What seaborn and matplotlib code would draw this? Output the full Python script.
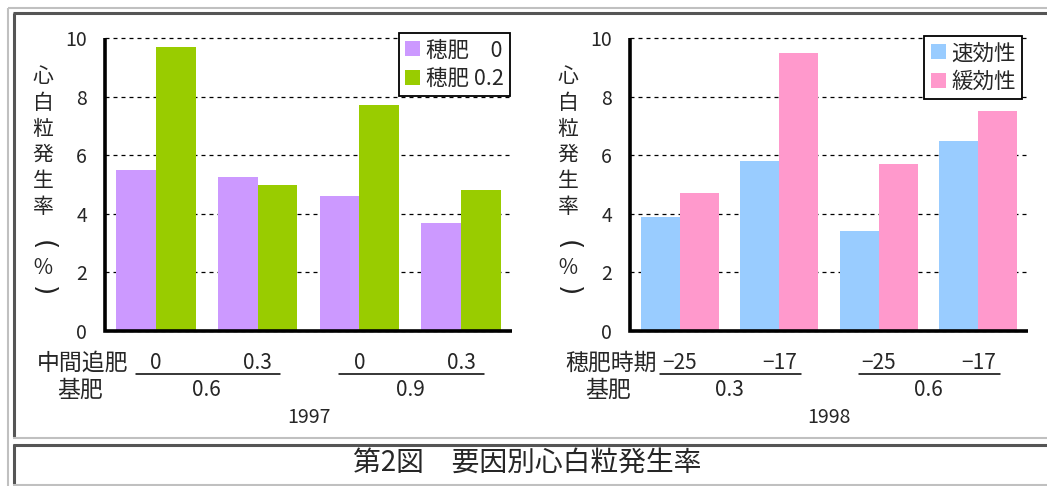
import matplotlib
matplotlib.use("Agg")
import matplotlib.pyplot as plt
import matplotlib.transforms as mtransforms
import seaborn as sns
import pandas as pd

# ---- data -------------------------------------------------------------
# 1997: base fertilizer x mid-season topdressing, panicle fertilizer 0 / 0.2
base_1997 = ["0.6", "0.6", "0.9", "0.9"]
mid_1997 = ["0", "0.3", "0", "0.3"]
series_1997 = ["穂肥　0", "穂肥 0.2"]
hohi_0 = [5.5, 5.25, 4.6, 3.7]
hohi_02 = [9.7, 5.0, 7.7, 4.8]

# 1998: base fertilizer x panicle fertilizer timing, quick / slow release
base_1998 = ["0.3", "0.3", "0.6", "0.6"]
timing_1998 = ["−25", "−17", "−25", "−17"]
series_1998 = ["速効性", "緩効性"]
sokkou = [3.9, 5.8, 3.4, 6.5]
kankou = [4.7, 9.5, 5.7, 7.5]

yticks = [0, 2, 4, 6, 8, 10]
ylabel = ["心", "白", "粒", "発", "生", "率", "(", "％", ")"]
title = "第2図　要因別心白粒発生率"

colors_1997 = ["#CC99FF", "#99CC00"]
colors_1998 = ["#99CCFF", "#FF99CC"]

# ---- style ------------------------------------------------------------
sns.set_style("white")
plt.rcParams["font.family"] = ["Noto Sans CJK JP", "DejaVu Sans"]

W, H = 1047, 486
fig = plt.figure(figsize=(W / 100, H / 100), dpi=100)
fig.patch.set_facecolor("white")


def px_axes(x0, y0, x1, y1):
    return fig.add_axes([x0 / W, 1 - y1 / H, (x1 - x0) / W, (y1 - y0) / H])


def make_frame(base, sub, s1, s2, series):
    keys = [f"{b}|{s}|{i}" for i, (b, s) in enumerate(zip(base, sub))]
    rows = []
    for k, v in zip(keys, s1):
        rows.append({"cond": k, "rate": v, "series": series[0]})
    for k, v in zip(keys, s2):
        rows.append({"cond": k, "rate": v, "series": series[1]})
    return pd.DataFrame(rows), keys


def draw_panel(ax, base, sub, s1, s2, series, colors, year, legend_anchor):
    df, keys = make_frame(base, sub, s1, s2, series)
    sns.barplot(data=df, x="cond", y="rate", hue="series", order=keys,
                hue_order=series, palette=colors, saturation=1, width=0.78,
                linewidth=0, ax=ax)
    ax.set_facecolor("none")
    ax.set_ylim(0, 10)
    ax.set_xlim(-0.5, len(keys) - 0.5)
    ax.set_yticks(yticks)
    ax.set_yticklabels([str(t) for t in yticks], fontsize=14)
    ax.set_xlabel("")
    ax.set_ylabel("")
    ax.set_axisbelow(True)
    ax.yaxis.grid(True, color="black", linestyle=(0, (3.2, 3.2)), linewidth=0.9)
    ax.xaxis.grid(False)
    for gl in ax.get_ygridlines():
        gl.set_clip_on(False)
    for side in ("top", "right", "left", "bottom"):
        ax.spines[side].set_visible(False)
    # heavy black value and category axis lines
    ax.plot([0, 0, 1], [1, 0, 0], transform=ax.transAxes, color="black",
            linewidth=2.6, clip_on=False, zorder=6, solid_joinstyle="miter",
            solid_capstyle="butt")
    ax.tick_params(axis="y", length=0, pad=13)
    ax.tick_params(axis="x", length=0, labelbottom=False)

    trans = mtransforms.blended_transform_factory(ax.transData, ax.transAxes)
    xt = list(ax.get_xticks())
    for x, lab in zip(xt, sub):
        ax.text(x, -0.109, lab, transform=trans, ha="center", va="center",
                fontsize=15)
    for i in (0, 2):
        ax.plot([xt[i] - 0.2, xt[i + 1] + 0.22], [-0.148, -0.148],
                transform=trans, clip_on=False, color="black", linewidth=1.1)
        ax.text((xt[i] + xt[i + 1]) / 2, -0.201, base[i], transform=trans,
                ha="center", va="center", fontsize=15)
    ax.text((xt[1] + xt[2]) / 2, -0.294, year, transform=trans,
            ha="center", va="center", fontsize=14)

    handles, labels = ax.get_legend_handles_labels()
    ax.legend(handles, labels, loc="upper right", bbox_to_anchor=legend_anchor,
              fontsize=15.5, frameon=True, fancybox=False, shadow=False,
              edgecolor="black", framealpha=1, borderpad=0.3,
              handlelength=0.7, handleheight=0.7, handletextpad=0.25,
              labelspacing=0.3, borderaxespad=0)
    ax.get_legend().get_frame().set_linewidth(1.3)


ax1 = px_axes(105, 38, 512, 331)
ax2 = px_axes(630, 38, 1028, 331)
draw_panel(ax1, base_1997, mid_1997, hohi_0, hohi_02, series_1997,
           colors_1997, "1997", (0.995, 1.017))
draw_panel(ax2, base_1998, timing_1998, sokkou, kankou, series_1998,
           colors_1998, "1998", (0.985, 1.007))

# ---- page layer: frames, row headers, vertical axis titles, caption ----
pg = fig.add_axes([0, 0, 1, 1], zorder=-1)
pg.set_xlim(0, W)
pg.set_ylim(H, 0)
pg.axis("off")

light = "#c0c0c0"
dark = "#555555"
pg.plot([8, W], [8, 8], color=light, lw=1.5, solid_capstyle="butt")
pg.plot([8, 8], [8, H], color=light, lw=1.5, solid_capstyle="butt")
pg.plot([13, W], [13.5, 13.5], color=dark, lw=2.2, solid_capstyle="butt")
pg.plot([13.5, 13.5], [13, 437], color=dark, lw=2.2, solid_capstyle="butt")
pg.plot([13, W], [438, 438], color=light, lw=1.5, solid_capstyle="butt")
pg.plot([13, W], [444.5, 444.5], color=dark, lw=2.2, solid_capstyle="butt")
pg.plot([13.5, 13.5], [444, 484], color=dark, lw=2.2, solid_capstyle="butt")
pg.plot([13, W], [484.5, 484.5], color=light, lw=1.5, solid_capstyle="butt")

# vertical axis title, one character per line; brackets turned for vertical
ylab_y = [77, 103, 129, 155, 181, 207, 245, 268, 291]
for cx in (43, 568):
    for ch, y in zip(ylabel, ylab_y):
        if ch in "()":
            pg.text(cx, y, ch, ha="center", va="center", fontsize=19,
                    rotation=-90, family="DejaVu Sans", color="#222222")
        else:
            pg.text(cx, y, ch, ha="center", va="center", fontsize=15)

pg.text(128, 363, "中間追肥", ha="right", va="center", fontsize=16.5)
pg.text(80, 390, "基肥", ha="center", va="center", fontsize=16.5)
pg.text(657, 363, "穂肥時期", ha="right", va="center", fontsize=16.5)
pg.text(608, 390, "基肥", ha="center", va="center", fontsize=16.5)

pg.text(527, 463, title, ha="center", va="center", fontsize=20)

fig.savefig("out.png", dpi=100, facecolor="white")
